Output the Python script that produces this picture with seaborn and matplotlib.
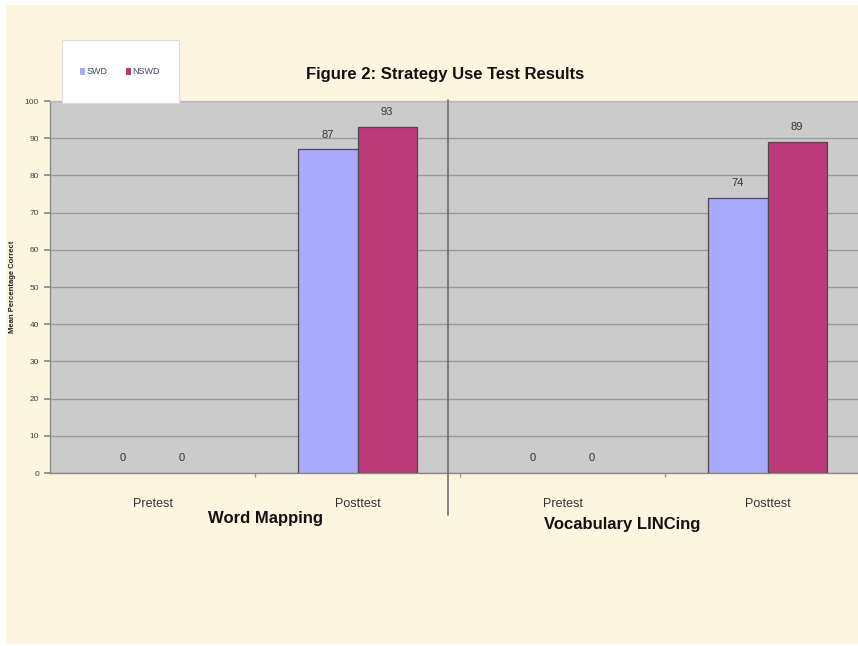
import matplotlib
matplotlib.use("Agg")
import matplotlib.pyplot as plt
import matplotlib.patches as mpatches
from matplotlib.lines import Line2D
import seaborn as sns
import pandas as pd

# ---- data ----
categories = ["WM Pretest", "WM Posttest", "VL Pretest", "VL Posttest"]
tick_labels = ["Pretest", "Posttest", "Pretest", "Posttest"]
groups = ["Word Mapping", "Vocabulary LINCing"]
series = ["SWD", "NSWD"]
swd_values = [0, 87, 0, 74]
nswd_values = [0, 93, 0, 89]

df = pd.DataFrame({
    "cat": categories * 2,
    "val": swd_values + nswd_values,
    "series": [series[0]] * 4 + [series[1]] * 4,
})

sns.set_theme(style="white")
plt.rcParams["font.family"] = ["Liberation Sans", "DejaVu Sans"]

W, H = 858, 646
fig = plt.figure(figsize=(W / 100, H / 100), dpi=100)
fig.patch.set_facecolor("white")
fig.add_artist(mpatches.Rectangle((6 / W, 1 - 644 / H), (W - 6) / W, (644 - 5) / H,
                                  transform=fig.transFigure, facecolor="#FDF5DF",
                                  edgecolor="none", zorder=0))

ax = fig.add_axes([50 / W, 1 - 473 / H, (W - 50) / W, (473 - 101) / H])
ax.set_facecolor("#CBCBCB")

palette = {"SWD": "#A9A9FE", "NSWD": "#BC3A77"}
sns.barplot(data=df, x="cat", y="val", hue="series", order=categories,
            hue_order=series, palette=palette, width=0.576, gap=0,
            edgecolor="#4A4A4A", linewidth=0.9, saturation=1, ax=ax, zorder=3)

for p in ax.patches:
    if p.get_height() == 0:
        p.set_linewidth(0)

for cont in ax.containers:
    ax.bar_label(cont, padding=7, fontsize=8, color="#333333")

ax.set_ylim(0, 100)
ax.set_xlim(-0.5, 3.5 - 12 / 205)
ax.set_yticks(range(0, 101, 10))
ax.yaxis.grid(True, color="#9A9A9A", linewidth=1.0, zorder=0)
ax.set_axisbelow(True)
ax.tick_params(axis="y", labelsize=6, labelcolor="#444444", length=4,
               color="#888888", left=True, pad=4)
ax.set_xticks(range(4))
ax.set_xticklabels(tick_labels, fontsize=9, color="#333333")
ax.tick_params(axis="x", length=0, pad=18)
ax.set_xticks([0.5, 1.5, 2.5], minor=True)
ax.tick_params(axis="x", which="minor", length=3, color="#999999", bottom=True)
ax.set_xlabel("")
ax.set_ylabel("Mean Percentage Correct", fontsize=5.5, fontweight="bold",
              color="#222222", labelpad=6)
for s in ax.spines.values():
    s.set_color("#8A8A8A")
    s.set_linewidth(1.0)
ax.spines["right"].set_visible(False)
ax.spines["top"].set_color("#BDBDBD")

leg = ax.get_legend()
handles, labels = ax.get_legend_handles_labels()
if leg is not None:
    leg.remove()

# divider between the two strategies
fig.add_artist(Line2D([448 / W, 448 / W], [1 - 100 / H, 1 - 515 / H],
                      transform=fig.transFigure, color="#6E6E6E", linewidth=1.2))

# group labels
fig.text(265 / W, 1 - 518 / H, groups[0], ha="center", va="center",
         fontsize=12, fontweight="bold", color="#111111")
fig.text(622 / W, 1 - 525 / H, groups[1], ha="center", va="center",
         fontsize=12, fontweight="bold", color="#111111")

# title
fig.text(445 / W, 1 - 74 / H, "Figure 2: Strategy Use Test Results", ha="center",
         va="center", fontsize=12, fontweight="bold", color="#111111")

# legend box
fig.add_artist(mpatches.Rectangle((62 / W, 1 - 103 / H), 117 / W, 63 / H,
                                  transform=fig.transFigure, facecolor="white",
                                  edgecolor="#DDDDDD", linewidth=0.8, zorder=5))
for h in handles:
    h.set_linewidth(0)
lg = fig.legend(handles, labels, loc="center", bbox_to_anchor=(120 / W, 1 - 72 / H),
                ncol=2, frameon=False, fontsize=6.5, handlelength=0.6,
                handleheight=0.9, handletextpad=0.15, columnspacing=2.0)
lg.set_zorder(6)
for t in lg.get_texts():
    t.set_color("#444466")

fig.savefig("out.png", dpi=100)
